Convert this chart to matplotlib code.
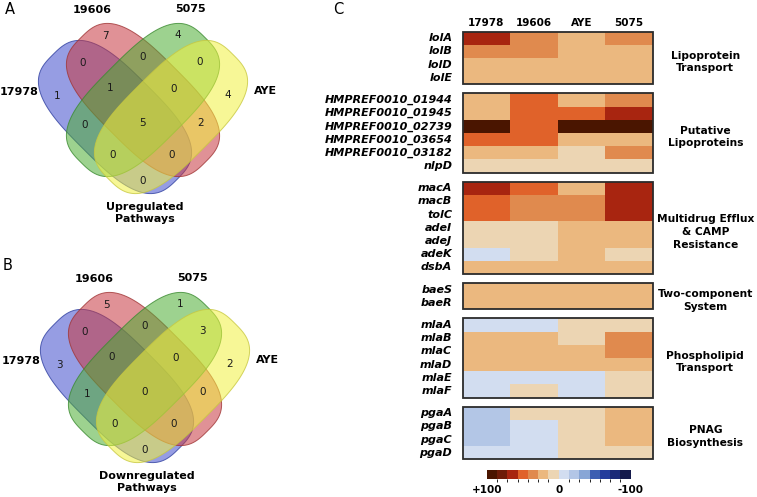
import numpy as np
import matplotlib.pyplot as plt
from matplotlib.colors import ListedColormap, BoundaryNorm
from matplotlib.patches import Polygon, Rectangle
from matplotlib.cm import ScalarMappable

# ---- venn data ----
set_names = ['17978', '19606', '5075', 'AYE']
regions = ['A', 'B', 'C', 'D', 'AB', 'BC', 'CD', 'AC', 'BD', 'AD',
           'ABC', 'BCD', 'ACD', 'ABD', 'ABCD']
up_counts = [1, 7, 4, 4, 0, 0, 0, 0, 2, 0, 1, 0, 0, 0, 5]
down_counts = [3, 5, 1, 2, 0, 0, 3, 1, 0, 0, 0, 0, 0, 0, 0]

# ---- heatmap data (approx. % change, + = up) ----
strains = ['17978', '19606', 'AYE', '5075']
group_names = ['Lipoprotein\nTransport', 'Putative\nLipoproteins',
               'Multidrug Efflux\n& CAMP\nResistance', 'Two-component\nSystem',
               'Phospholipid\nTransport', 'PNAG\nBiosynthesis']
genes_lipo = ['lolA', 'lolB', 'lolD', 'lolE']
vals_lipo = [[65, 35, 20, 35], [35, 35, 20, 20], [20, 20, 20, 20], [20, 20, 20, 20]]
genes_put = ['HMPREF0010_01944', 'HMPREF0010_01945', 'HMPREF0010_02739',
             'HMPREF0010_03654', 'HMPREF0010_03182', 'nlpD']
vals_put = [[20, 50, 20, 35], [20, 50, 50, 65], [95, 50, 95, 95],
            [50, 50, 20, 20], [20, 20, 7, 35], [7, 7, 7, 7]]
genes_mdr = ['macA', 'macB', 'tolC', 'adeI', 'adeJ', 'adeK', 'dsbA']
vals_mdr = [[65, 50, 20, 65], [50, 35, 35, 65], [50, 35, 35, 65], [7, 7, 20, 20],
            [7, 7, 20, 20], [-7, 7, 20, 7], [20, 20, 20, 20]]
genes_tcs = ['baeS', 'baeR']
vals_tcs = [[20, 20, 20, 20], [20, 20, 20, 20]]
genes_pl = ['mlaA', 'mlaB', 'mlaC', 'mlaD', 'mlaE', 'mlaF']
vals_pl = [[-7, -7, 7, 7], [20, 20, 7, 35], [20, 20, 20, 35], [20, 20, 20, 20],
           [-7, -7, -7, 7], [-7, 7, -7, 7]]
genes_pga = ['pgaA', 'pgaB', 'pgaC', 'pgaD']
vals_pga = [[-20, 7, 7, 20], [-20, -7, 7, 20], [-20, -7, 7, 20], [-7, -7, 7, 7]]

groups = [(genes_lipo, vals_lipo), (genes_put, vals_put), (genes_mdr, vals_mdr),
          (genes_tcs, vals_tcs), (genes_pl, vals_pl), (genes_pga, vals_pga)]

# colour scale, -100 -> +100
scale_colors = ['#151b4c', '#1b2a78', '#243c9c', '#3d5fb2', '#88a6d6', '#b3c6e6', '#d2ddf0',
                '#ecd5b3', '#ebb87f', '#e08a4e', '#e0622a', '#a82510', '#6e1c08', '#4a1500']
cmap = ListedColormap(scale_colors)
norm = BoundaryNorm(np.linspace(-100, 100, len(scale_colors) + 1), cmap.N)

W, H = 757, 497
fig = plt.figure(figsize=(W / 100, H / 100), dpi=100)
bg = fig.add_axes([0, 0, 1, 1])
bg.set_xlim(0, W)
bg.set_ylim(H, 0)
bg.axis('off')

# ---- venn diagrams (shape geometry in pixels, relative to the centre region) ----
# (dx, dy, half length, half width, direction) ; direction +1 = down-right, -1 = up-right
shapes = [(-28, -6, 88, 45, 1), (0, -23, 88, 45, 1), (0, -23, 88, 45, -1), (28, -6, 88, 45, -1)]
fills = [(0.25, 0.30, 0.80), (0.78, 0.22, 0.25), (0.30, 0.68, 0.20), (0.95, 0.95, 0.25)]
edges = ['#3040a0', '#a03535', '#3a8a30', '#c8c840']
label_off = {'A': (-86, -27), 'B': (-38, -87), 'C': (35, -88), 'D': (85, -28),
             'AB': (-60, -60), 'BC': (0, -66), 'CD': (57, -61), 'AC': (-58, 2),
             'BD': (58, 0), 'AD': (0, 58), 'ABC': (-33, -35), 'BCD': (31, -34),
             'ACD': (-30, 32), 'ABD': (29, 32), 'ABCD': (0, 0)}
NEXP = 3.0


def venn(cx, cy, counts, title):
    t = np.linspace(0, 2 * np.pi, 400)
    for (dx, dy, a, b, d), fc, ec in zip(shapes, fills, edges):
        x = a * np.sign(np.cos(t)) * np.abs(np.cos(t)) ** (2 / NEXP)
        y = b * np.sign(np.sin(t)) * np.abs(np.sin(t)) ** (2 / NEXP)
        r = np.sqrt(0.5)
        px = cx + dx + r * (x - d * y)
        py = cy + dy + r * (d * x + y)
        pts = np.column_stack([px, py])
        bg.add_patch(Polygon(pts, closed=True, facecolor=fc, alpha=0.55, edgecolor='none'))
        bg.add_patch(Polygon(pts, closed=True, facecolor='none', edgecolor=ec,
                             lw=0.7, alpha=0.8))
    for reg, c in zip(regions, counts):
        ox, oy = label_off[reg]
        bg.text(cx + ox, cy + oy, str(c), ha='center', va='center',
                fontsize=7.5, color='#1a1a1a')
    bold = dict(fontsize=8, fontweight='bold', ha='center', va='center')
    bg.text(cx - 51, cy - 113, set_names[1], **bold)
    bg.text(cx + 48, cy - 114, set_names[2], **bold)
    bg.text(cx - 124, cy - 31, set_names[0], **bold)
    bg.text(cx + 123, cy - 32, set_names[3], **bold)
    bg.text(cx + 2, cy + 90, title, linespacing=1.35, **bold)


venn(143, 123, up_counts, 'Upregulated\nPathways')
venn(145, 392, down_counts, 'Downregulated\nPathways')

bg.text(10, 9, 'A', fontsize=10.5, ha='center', va='center')
bg.text(8, 265, 'B', fontsize=10.5, ha='center', va='center')
bg.text(338, 9, 'C', fontsize=10.5, ha='center', va='center')

# ---- heatmap ----
gap = 0.68
total = sum(len(g[0]) for g in groups) + gap * (len(groups) - 1)
hx0, hx1, hy0, hy1 = 462.7, 653.0, 31.7, 459.3
ax = fig.add_axes([hx0 / W, 1 - hy1 / H, (hx1 - hx0) / W, (hy1 - hy0) / H])
ax.set_xlim(0, 4)
ax.set_ylim(total, 0)
ax.axis('off')

y0 = 0
for gi, (genes, vals) in enumerate(groups):
    n = len(genes)
    ax.pcolormesh(np.arange(5), y0 + np.arange(n + 1), np.array(vals),
                  cmap=cmap, norm=norm)
    ax.add_patch(Rectangle((0, y0), 4, n, fill=False, lw=1.3,
                           edgecolor='#2b2b2b', clip_on=False))
    for i, g in enumerate(genes):
        ax.text(-0.22, y0 + i + 0.5, g, ha='right', va='center', fontsize=8,
                fontweight='bold', style='italic')
    ax.text(5.1, y0 + n / 2 + 0.3, group_names[gi], ha='center', va='center',
            fontsize=7.7, fontweight='bold', linespacing=1.35, clip_on=False)
    y0 += n + gap

for j, s in enumerate(strains):
    ax.text(j + 0.5, -0.68, s, ha='center', va='center', fontsize=7.5,
            fontweight='bold')

# colour bar
cax = fig.add_axes([486.7 / W, 1 - 479.3 / H, 144 / W, 9.3 / H])
cb = fig.colorbar(ScalarMappable(norm=norm, cmap=cmap), cax=cax,
                  orientation='horizontal')
cb.outline.set_visible(False)
cax.invert_xaxis()
cb.set_ticks([100, 0, -100])
cb.set_ticklabels(['+100', '0', '-100'])
cax.tick_params(length=0, pad=4)
for lab in cax.get_xticklabels():
    lab.set_fontweight('bold')
    lab.set_fontsize(7.5)

fig.savefig('out.png', dpi=100)
